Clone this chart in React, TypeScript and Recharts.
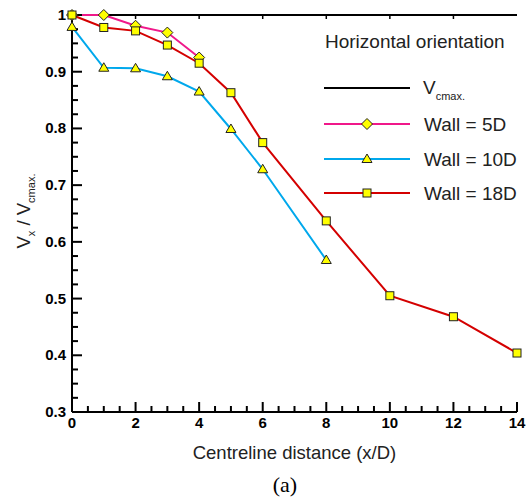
import { Legend, Line, LineChart, XAxis, YAxis } from "recharts";

// x positions (x/D) and velocity ratios
const vcmaxX = [0, 14];
const vcmaxY = [1, 1];
const wall5X = [0, 1, 2, 3, 4];
const wall5Y = [1.0, 1.0, 0.981, 0.969, 0.925];
const wall10X = [0, 1, 2, 3, 4, 5, 6, 8];
const wall10Y = [0.979, 0.907, 0.906, 0.892, 0.865, 0.799, 0.728, 0.568];
const wall18X = [0, 1, 2, 3, 4, 5, 6, 8, 10, 12, 14];
const wall18Y = [1.0, 0.978, 0.972, 0.947, 0.915, 0.863, 0.775, 0.637, 0.505, 0.468, 0.404];

const seriesNames = ["Vcmax", "Wall = 5D", "Wall = 10D", "Wall = 18D"];

const xTicks = [0, 0.5, 1, 1.5, 2, 2.5, 3, 3.5, 4, 4.5, 5, 5.5, 6, 6.5, 7, 7.5, 8, 8.5, 9, 9.5, 10, 10.5, 11, 11.5, 12, 12.5, 13, 13.5, 14];
const yTicks = [0.3, 0.325, 0.35, 0.375, 0.4, 0.425, 0.45, 0.475, 0.5, 0.525, 0.55, 0.575, 0.6, 0.625, 0.65, 0.675, 0.7, 0.725, 0.75, 0.775, 0.8, 0.825, 0.85, 0.875, 0.9, 0.925, 0.95, 0.975, 1.0];
const topTicks = [2, 4, 6, 8, 10, 12];

const toPoints = (xs: number[], ys: number[]) => xs.map((x, i) => ({ x, y: ys[i] }));

const isMajorX = (v: number) => v % 2 === 0;
const isMajorY = (v: number) => Math.abs(v * 10 - Math.round(v * 10)) < 1e-6;

const FONT = "'Liberation Sans', Arial, sans-serif";
const FILL = "#ffff00";
const EDGE = "#222";

const diamond = (cx: number, cy: number, key?: any) => (
  <path key={key} d={`M${cx},${cy - 5.5}L${cx + 5.5},${cy}L${cx},${cy + 5.5}L${cx - 5.5},${cy}Z`} fill={FILL} stroke={EDGE} strokeWidth={1} />
);
const triangle = (cx: number, cy: number, key?: any) => (
  <path key={key} d={`M${cx},${cy - 5}L${cx + 5},${cy + 3.5}L${cx - 5},${cy + 3.5}Z`} fill={FILL} stroke={EDGE} strokeWidth={1} />
);
const square = (cx: number, cy: number, key?: any) => (
  <rect key={key} x={cx - 4} y={cy - 4} width={8} height={8} fill={FILL} stroke={EDGE} strokeWidth={1} />
);

const markers: Record<string, any> = {
  "Wall = 5D": diamond,
  "Wall = 10D": triangle,
  "Wall = 18D": square,
};

// tick marks drawn as dots of helper series so they sit on top of the plot
const xTickMark = (p: any) => (
  <path
    key={`xm-${p.index}`}
    d={`M${p.cx},${p.cy}V${p.cy - (isMajorX(p.payload.x) ? 10 : 6)}`}
    stroke="#000"
    strokeWidth={2}
    fill="none"
  />
);
const yTickMark = (p: any) => (
  <path
    key={`ym-${p.index}`}
    d={`M${p.cx},${p.cy}H${p.cx + (isMajorY(p.payload.y) ? 10 : 6)}`}
    stroke="#000"
    strokeWidth={2}
    fill="none"
  />
);
const topTickMark = (p: any) => (
  <path key={`tm-${p.index}`} d={`M${p.cx},${p.cy}V${p.cy + 4}`} stroke="#000" strokeWidth={1.5} fill="none" />
);

const renderXTick = (props: any) => {
  const { x, y, payload, index } = props;
  const v = payload.value;
  return (
    <g key={`xt-${index}`}>
      {isMajorX(v) && (
        <text x={Number(x)} y={Number(y) + 16} textAnchor="middle" fontFamily={FONT} fontWeight="bold" fontSize={15} fill="#000">
          {v}
        </text>
      )}
    </g>
  );
};

const renderYTick = (props: any) => {
  const { x, y, payload, index } = props;
  const v = payload.value;
  return (
    <g key={`yt-${index}`}>
      {isMajorY(v) && (
        <text x={Number(x) - 6} y={Number(y) + 5} textAnchor="end" fontFamily={FONT} fontWeight="bold" fontSize={15} fill="#000">
          {v >= 1 ? "1" : v.toFixed(1)}
        </text>
      )}
    </g>
  );
};

const LegendBox = ({ payload }: any) => {
  const rows = [88, 124, 159, 193];
  const items = (payload || [])
    .filter((p: any) => seriesNames.includes(p.value))
    .sort((a: any, b: any) => seriesNames.indexOf(a.value) - seriesNames.indexOf(b.value));
  return (
    <svg width={529} height={220} style={{ display: "block" }}>
      <text x={325} y={48} fontFamily={FONT} fontSize={19} fill="#222">
        Horizontal orientation
      </text>
      {items.map((p: any, i: number) => {
        const y = rows[i];
        const mk = markers[p.value];
        return (
          <g key={p.value}>
            <line x1={324} x2={410} y1={y} y2={y} stroke={p.color} strokeWidth={2} />
            {mk && mk(367, y)}
            {p.value === "Vcmax" ? (
              <text x={423} y={y + 5.5} fontFamily={FONT} fontSize={19} fill="#222">
                V
                <tspan fontSize={11} dy={6}>
                  cmax.
                </tspan>
              </text>
            ) : (
              <text x={424} y={y + 6.5} fontFamily={FONT} fontSize={19} fill="#222">
                {p.value}
              </text>
            )}
          </g>
        );
      })}
    </svg>
  );
};

const XLabel = ({ viewBox }: any) => {
  const cx = viewBox ? viewBox.x + viewBox.width / 2 : 294;
  return (
    <g>
      <text x={cx} y={459} textAnchor="middle" fontFamily={FONT} fontSize={18.5} fill="#222">
        Centreline distance (x/D)
      </text>
      <text x={285} y={492} textAnchor="middle" fontFamily="'Liberation Serif', 'Times New Roman', serif" fontSize={22} fill="#000">
        (a)
      </text>
    </g>
  );
};

const YLabel = () => (
  <text x={30} y={211} transform="rotate(-90, 30, 211)" textAnchor="middle" fontFamily={FONT} fontSize={18.5} fill="#222">
    V
    <tspan fontSize={11} dy={5}>x</tspan>
    <tspan dy={-5}> / V</tspan>
    <tspan fontSize={11} dy={5}>cmax.</tspan>
  </text>
);

const App = () => {
  return (
    <div style={{ position: "absolute", left: 0, top: 0 }}>
      <LineChart width={529} height={499} margin={{ top: 15, right: 12, left: 22, bottom: 57 }}>
        <XAxis
          type="number"
          dataKey="x"
          domain={[0, 14]}
          ticks={xTicks}
          interval={0}
          tickSize={0}
          tickMargin={0}
          tickLine={false}
          tick={renderXTick}
          axisLine={{ stroke: "#000", strokeWidth: 2 }}
          height={30}
          label={{ content: <XLabel /> }}
        />
        <YAxis
          type="number"
          dataKey="y"
          domain={[0.3, 1]}
          ticks={yTicks}
          interval={0}
          tickSize={0}
          tickMargin={0}
          tickLine={false}
          tick={renderYTick}
          axisLine={{ stroke: "#000", strokeWidth: 2 }}
          width={50}
          label={{ content: <YLabel /> }}
        />
        <Legend
          layout="vertical"
          align="center"
          verticalAlign="middle"
          content={<LegendBox />}
          wrapperStyle={{ position: "absolute", left: 0, top: 0, width: 529, height: 220 }}
        />
        <Line
          name="xticks"
          legendType="none"
          data={xTicks.map((v) => ({ x: v, y: 0.3 }))}
          dataKey="y"
          stroke="none"
          dot={xTickMark}
          activeDot={false}
          isAnimationActive={false}
        />
        <Line
          name="yticks"
          legendType="none"
          data={yTicks.map((v) => ({ x: 0, y: v }))}
          dataKey="y"
          stroke="none"
          dot={yTickMark}
          activeDot={false}
          isAnimationActive={false}
        />
        <Line
          name="Vcmax"
          data={toPoints(vcmaxX, vcmaxY)}
          dataKey="y"
          stroke="#000"
          strokeWidth={2}
          dot={false}
          isAnimationActive={false}
        />
        <Line
          name="topticks"
          legendType="none"
          data={topTicks.map((v) => ({ x: v, y: 1 }))}
          dataKey="y"
          stroke="none"
          dot={topTickMark}
          activeDot={false}
          isAnimationActive={false}
        />
        <Line
          name="Wall = 5D"
          data={toPoints(wall5X, wall5Y)}
          dataKey="y"
          stroke="#f0188a"
          strokeWidth={2}
          dot={(p: any) => diamond(p.cx, p.cy, `d5-${p.index}`)}
          isAnimationActive={false}
        />
        <Line
          name="Wall = 10D"
          data={toPoints(wall10X, wall10Y)}
          dataKey="y"
          stroke="#00a8ec"
          strokeWidth={2}
          dot={(p: any) => triangle(p.cx, p.cy, `d10-${p.index}`)}
          isAnimationActive={false}
        />
        <Line
          name="Wall = 18D"
          data={toPoints(wall18X, wall18Y)}
          dataKey="y"
          stroke="#d40000"
          strokeWidth={2}
          dot={(p: any) => square(p.cx, p.cy, `d18-${p.index}`)}
          isAnimationActive={false}
        />
      </LineChart>
    </div>
  );
};

export default App;
